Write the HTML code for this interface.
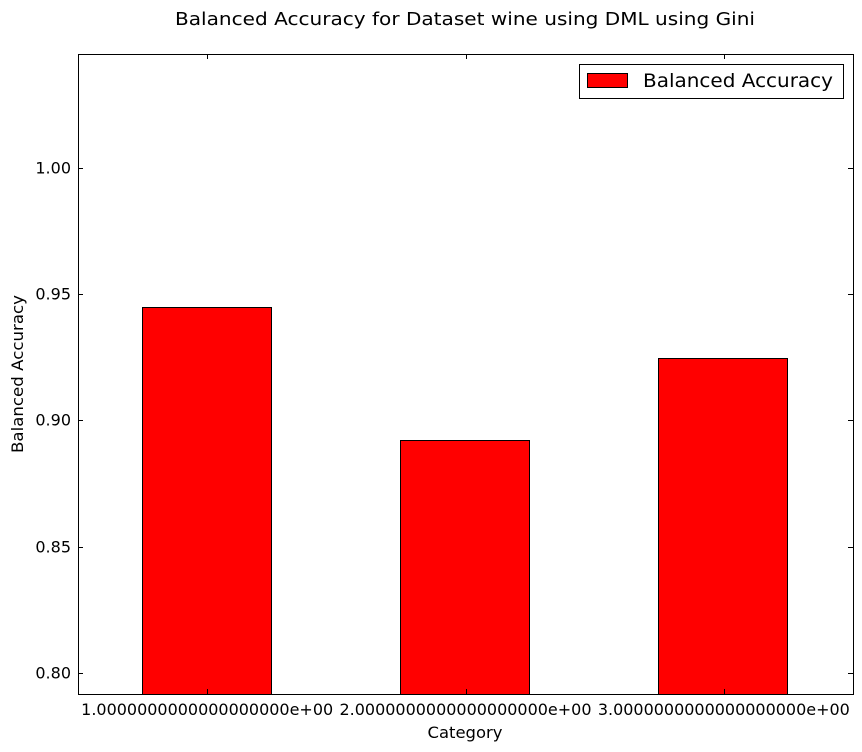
<!DOCTYPE html>
<html><head><meta charset="utf-8"><style>
body{margin:0;background:#fff;}
svg{display:block;font-family:"DejaVu Sans","Liberation Sans",sans-serif;}
</style></head><body>
<svg id="chart" width="862" height="752">
<rect x="0" y="0" width="862" height="752" fill="#fff"/>
<text x="465" y="25" font-size="18" text-anchor="middle" textLength="580" lengthAdjust="spacingAndGlyphs">Balanced Accuracy for Dataset wine using DML using Gini</text>
<g id="bars"></g>
<g id="axes"></g>
<rect x="78.5" y="54.5" width="775" height="640" fill="none" stroke="#000" stroke-width="1"/>
<text x="465" y="738" font-size="16" text-anchor="middle" textLength="75" lengthAdjust="spacingAndGlyphs">Category</text>
<text transform="translate(23,374) rotate(-90)" font-size="16" text-anchor="middle" textLength="158" lengthAdjust="spacingAndGlyphs">Balanced Accuracy</text>
<g>
<rect x="579.5" y="64.5" width="264" height="34" fill="#fff" stroke="#000"/>
<rect x="587.5" y="73.5" width="40" height="14" fill="#ff0000" stroke="#000"/>
<text x="643" y="87" font-size="19" textLength="190" lengthAdjust="spacingAndGlyphs">Balanced Accuracy</text>
</g>
</svg>
<script>
const categories = [1, 2, 3];
const values = [0.9449, 0.8921, 0.9247];
const yTicks = [0.80, 0.85, 0.90, 0.95, 1.00];
const xTickLabels = ["1.0000000000000000000e+00","2.0000000000000000000e+00","3.0000000000000000000e+00"];
const L=78,R=853,T=54,B=694;
const xMin=0.5,xMax=3.5,yMin=0.7917,yMax=1.0451;
const xs=v=>L+(v-xMin)/(xMax-xMin)*(R-L);
const ys=v=>B-(v-yMin)/(yMax-yMin)*(B-T);
const NS="http://www.w3.org/2000/svg";
const bars=document.getElementById('bars'), axes=document.getElementById('axes');
categories.forEach((c,i)=>{
  const r=document.createElementNS(NS,'rect');
  const x0=xs(c-0.25),x1=xs(c+0.25),y0=ys(values[i]);
  r.setAttribute('x',Math.round(x0)-0.5);r.setAttribute('y',Math.round(y0)+0.5);
  r.setAttribute('width',Math.round(x1-x0));r.setAttribute('height',B-Math.round(y0));
  r.setAttribute('fill','#ff0000');r.setAttribute('stroke','#000');
  
  
  bars.appendChild(r);
  const tx=Math.round(xs(c))+0.5;
  [[B,B-5],[T,T+5]].forEach(p=>{
    const l=document.createElementNS(NS,'line');
    l.setAttribute('x1',tx);l.setAttribute('x2',tx);l.setAttribute('y1',p[0]);l.setAttribute('y2',p[1]);l.setAttribute('stroke','#000');
    
    
    axes.appendChild(l);
  });
  const t=document.createElementNS(NS,'text');
  t.setAttribute('x',xs(c));t.setAttribute('y',715);t.setAttribute('font-size','16');t.setAttribute('text-anchor','middle');
  t.setAttribute('textLength','252');t.setAttribute('lengthAdjust','spacingAndGlyphs');
  t.textContent=xTickLabels[i];
  
  
  axes.appendChild(t);
});
yTicks.forEach(v=>{
  const y=Math.round(ys(v))+0.5;
  [[L,L+5],[R,R-5]].forEach(p=>{
    const l=document.createElementNS(NS,'line');
    l.setAttribute('x1',p[0]);l.setAttribute('x2',p[1]);l.setAttribute('y1',y);l.setAttribute('y2',y);l.setAttribute('stroke','#000');
    
    
    axes.appendChild(l);
  });
  const t=document.createElementNS(NS,'text');
  t.setAttribute('x',71);t.setAttribute('y',y+5);t.setAttribute('font-size','16');t.setAttribute('text-anchor','end');
  t.textContent=v.toFixed(2);
  
  
  axes.appendChild(t);
});
</script>
</body></html>
